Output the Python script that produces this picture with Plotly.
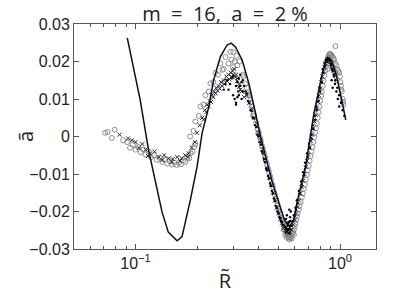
import plotly.graph_objects as go

# ---- solid model curve ----
line_R = [0.0911, 0.0977, 0.1054, 0.1158, 0.1225, 0.1347, 0.1446, 0.1596, 0.1688, 0.1752,
          0.1854, 0.1999, 0.2116, 0.2280, 0.2411, 0.2601, 0.2805, 0.2935, 0.3082, 0.3322,
          0.3580, 0.3862, 0.4086, 0.4372, 0.4679, 0.5063, 0.5357, 0.5667, 0.5929, 0.6204,
          0.6789, 0.7458, 0.7747, 0.8197, 0.8509, 0.8833, 0.9178, 0.9711, 1.0276, 1.0665]
line_a = [0.0263, 0.0186, 0.0097, -0.0036, -0.0100, -0.0201, -0.0255, -0.0278, -0.0267, -0.0231,
          -0.0169, -0.0081, 0.0009, 0.0079, 0.0151, 0.0213, 0.0244, 0.0249, 0.0239, 0.0204,
          0.0142, 0.0062, 0.0000, -0.0063, -0.0124, -0.0183, -0.0223, -0.0239, -0.0223, -0.0169,
          -0.0080, 0.0062, 0.0106, 0.0169, 0.0199, 0.0209, 0.0199, 0.0151, 0.0089, 0.0044]

# ---- open circles ----
circ_R = [0.071, 0.073, 0.0766, 0.079, 0.087,
          0.091, 0.094, 0.097, 0.100, 0.103, 0.106, 0.109, 0.112, 0.116, 0.119, 0.123, 0.127,
          0.131, 0.135, 0.139, 0.143, 0.147, 0.151, 0.155, 0.159, 0.163, 0.167, 0.171, 0.175,
          0.179, 0.183, 0.186, 0.190, 0.193, 0.196,
          0.185, 0.196, 0.2076, 0.2196, 0.2324, 0.2459, 0.2602, 0.2753, 0.2912, 0.301, 0.312,
          0.322, 0.337, 0.357, 0.377, 0.398,
          0.192, 0.204, 0.215, 0.228, 0.240, 0.253, 0.266, 0.285, 0.295, 0.305, 0.300, 0.315, 0.270,
          0.335, 0.345, 0.355, 0.365, 0.377, 0.388, 0.400, 0.410, 0.420, 0.430, 0.440, 0.450,
          0.460, 0.470, 0.480, 0.490, 0.500, 0.510, 0.520, 0.530, 0.540, 0.550, 0.560, 0.570,
          0.580, 0.590, 0.600, 0.610, 0.620, 0.635, 0.650, 0.665, 0.680, 0.695, 0.710, 0.725,
          0.740, 0.755, 0.770, 0.785, 0.800, 0.815, 0.830, 0.845, 0.860, 0.875, 0.890, 0.905,
          0.920, 0.935, 0.960, 0.980, 1.000, 1.010, 1.020, 1.030, 1.040,
          0.950, 0.540, 0.550, 0.565, 0.580, 0.595, 0.530, 0.870, 0.900, 0.925, 0.950, 0.965,
          0.350, 0.360, 0.370, 0.380, 0.395, 0.405, 0.415, 0.425, 0.435, 0.445, 0.455, 0.465,
          0.475, 0.485, 0.495, 0.505, 0.515, 0.525, 0.535, 0.545, 0.555, 0.565, 0.575, 0.585,
          0.595, 0.605, 0.615, 0.628, 0.642, 0.657, 0.672, 0.688, 0.703, 0.718, 0.733, 0.748,
          0.763, 0.778, 0.793, 0.808, 0.823, 0.838, 0.853, 0.868, 0.883, 0.897, 0.912, 0.928,
          0.945, 0.970, 0.990, 1.005, 1.015, 1.035]
circ_a = [0.0010, 0.0012, -0.0004, 0.0018, -0.0010,
          -0.0015, -0.0030, -0.0022, -0.0035, -0.0028, -0.0042, -0.0035, -0.0048, -0.0040, -0.0055,
          -0.0050, -0.0062, -0.0056, -0.0068, -0.0062, -0.0072, -0.0066, -0.0075, -0.0070, -0.0076,
          -0.0070, -0.0074, -0.0064, -0.0068, -0.0056, -0.0058, -0.0044, -0.0040, -0.0028, -0.0020,
          0.0000, 0.0040, 0.0080, 0.0110, 0.0142, 0.0170, 0.0195, 0.0212, 0.0226, 0.0225, 0.0215,
          0.0200, 0.0160, 0.0110, 0.0055, 0.0008,
          0.0015, 0.0055, 0.0085, 0.0120, 0.0145, 0.0165, 0.0178, 0.0195, 0.0205, 0.0200, 0.0185,
          0.0190, 0.0180,
          0.0165, 0.0140, 0.0115, 0.0090, 0.0060, 0.0035, 0.0010, -0.0012, -0.0035, -0.0055,
          -0.0075, -0.0095, -0.0115, -0.0135, -0.0155, -0.0172, -0.0190, -0.0205, -0.0220,
          -0.0235, -0.0248, -0.0260, -0.0268, -0.0270, -0.0265, -0.0255, -0.0240, -0.0222,
          -0.0205, -0.0185, -0.0162, -0.0140, -0.0115, -0.0090, -0.0065, -0.0040, -0.0015,
          0.0010, 0.0035, 0.0065, 0.0095, 0.0120, 0.0148, 0.0175, 0.0198, 0.0212, 0.0220,
          0.0218, 0.0212, 0.0205, 0.0190, 0.0175, 0.0160, 0.0135, 0.0120, 0.0100, 0.0085,
          0.0241, -0.0262, -0.0270, -0.0275, -0.0272, -0.0262, -0.0248, 0.0180, 0.0200, 0.0185,
          0.0170, 0.0150,
          0.0130, 0.0108, 0.0080, 0.0055, 0.0020, -0.0002, -0.0025, -0.0045, -0.0067, -0.0087,
          -0.0106, -0.0127, -0.0147, -0.0165, -0.0182, -0.0198, -0.0213, -0.0228, -0.0242,
          -0.0255, -0.0265, -0.0270, -0.0268, -0.0260, -0.0248, -0.0232, -0.0214, -0.0195,
          -0.0175, -0.0152, -0.0128, -0.0102, -0.0078, -0.0052, -0.0028, -0.0002, 0.0022,
          0.0050, 0.0080, 0.0108, 0.0135, 0.0162, 0.0187, 0.0205, 0.0217, 0.0220, 0.0215,
          0.0208, 0.0195, 0.0180, 0.0170, 0.0145, 0.0125, 0.0092]

# ---- crosses ----
cross_R = [0.0835, 0.096, 0.100, 0.104, 0.108, 0.112, 0.118, 0.124, 0.130, 0.138, 0.145,
           0.152, 0.160, 0.168, 0.175, 0.182, 0.188, 0.195, 0.200, 0.206, 0.212, 0.218, 0.224,
           0.230, 0.236, 0.242, 0.248, 0.255, 0.262, 0.270, 0.278, 0.285, 0.292, 0.298, 0.304,
           0.310, 0.316, 0.322, 0.330, 0.340,
           0.350, 0.370, 0.390, 0.410, 0.430, 0.450, 0.470, 0.490, 0.510, 0.530, 0.550, 0.570,
           0.590, 0.610, 0.630, 0.650, 0.670, 0.690, 0.710, 0.730, 0.750, 0.770, 0.790, 0.810,
           0.830, 0.850, 0.870, 0.890, 0.910, 0.930, 0.950,
           0.215, 0.222, 0.228, 0.234, 0.240, 0.246, 0.252, 0.258, 0.265, 0.272, 0.280, 0.288,
           0.295, 0.302, 0.308, 0.314, 0.320, 0.326,
           0.092, 0.115, 0.135, 0.150, 0.165, 0.180,
           0.360, 0.380, 0.400, 0.420, 0.440, 0.460, 0.480, 0.500, 0.520, 0.540, 0.560, 0.580,
           0.600, 0.620, 0.640, 0.660, 0.680, 0.700, 0.720, 0.740, 0.760, 0.780, 0.800, 0.820,
           0.840, 0.860, 0.880, 0.900, 0.920]
cross_a = [0.0005, -0.0010, -0.0015, -0.0030, -0.0020, -0.0035, -0.0045, -0.0040, -0.0055,
           -0.0050, -0.0058, -0.0060, -0.0055, -0.0058, -0.0050, -0.0045, -0.0030, -0.0015,
           0.0010, 0.0030, 0.0050, 0.0070, 0.0085, 0.0095, 0.0110, 0.0120, 0.0130, 0.0135,
           0.0145, 0.0150, 0.0160, 0.0165, 0.0170, 0.0175, 0.0180, 0.0165, 0.0155, 0.0140,
           0.0120, 0.0105,
           0.0110, 0.0075, 0.0035, -0.0010, -0.0060, -0.0110, -0.0150, -0.0190, -0.0220,
           -0.0245, -0.0255, -0.0255, -0.0235, -0.0205, -0.0170, -0.0135, -0.0100, -0.0065,
           -0.0030, 0.0005, 0.0040, 0.0075, 0.0110, 0.0145, 0.0175, 0.0195, 0.0205, 0.0200,
           0.0185, 0.0175, 0.0165,
           0.0045, 0.0065, 0.0080, 0.0092, 0.0105, 0.0115, 0.0122, 0.0128, 0.0135, 0.0140,
           0.0148, 0.0152, 0.0160, 0.0165, 0.0158, 0.0148, 0.0132, 0.0125,
           -0.0005, -0.0052, -0.0063, -0.0068, -0.0065, -0.0055,
           0.0090, 0.0050, 0.0010, -0.0035, -0.0085, -0.0130, -0.0170, -0.0205, -0.0232,
           -0.0250, -0.0258, -0.0248, -0.0222, -0.0188, -0.0152, -0.0118, -0.0082, -0.0048,
           -0.0012, 0.0022, 0.0058, 0.0092, 0.0128, 0.0160, 0.0185, 0.0200, 0.0203, 0.0193,
           0.0180]

# ---- dots ----
dot_R = [0.280, 0.290, 0.305, 0.310, 0.320, 0.325, 0.330, 0.335, 0.300, 0.315,
         0.345, 0.355, 0.365, 0.375, 0.385, 0.395, 0.405, 0.415, 0.425, 0.435, 0.445, 0.455,
         0.465, 0.475, 0.485, 0.495, 0.505, 0.515, 0.525, 0.535, 0.545, 0.555, 0.565, 0.575,
         0.585, 0.595, 0.605, 0.615, 0.630, 0.645, 0.660, 0.675, 0.690, 0.705, 0.720, 0.735,
         0.750, 0.765, 0.780, 0.795, 0.810, 0.825, 0.840, 0.855, 0.870, 0.885, 0.900, 0.915,
         0.930, 0.910, 0.920, 0.545, 0.550, 0.560, 0.565, 0.570, 0.575,
         0.950, 0.970, 0.990, 1.010, 1.030, 1.050,
         0.340, 0.350, 0.360, 0.370, 0.380, 0.390, 0.400, 0.410, 0.420, 0.430, 0.440, 0.450,
         0.460, 0.470, 0.480, 0.490, 0.500, 0.510, 0.520, 0.530, 0.540, 0.550, 0.560, 0.570,
         0.580, 0.590, 0.600, 0.610, 0.620, 0.635, 0.650, 0.665, 0.680, 0.695, 0.710, 0.725,
         0.740, 0.755, 0.770, 0.785, 0.800, 0.815, 0.830, 0.845, 0.860, 0.875, 0.890, 0.905,
         0.920, 0.935, 0.945, 0.960, 0.975, 0.990,
         0.555, 0.560, 0.550, 0.545, 0.565, 0.570,
         0.270, 0.275, 0.285, 0.295, 0.300, 0.310, 0.315, 0.320, 0.325, 0.330, 0.335, 0.310,
         0.318]
dot_a = [0.0150, 0.0140, 0.0100, 0.0090, 0.0110, 0.0135, 0.0100, 0.0120, 0.0160, 0.0145,
         0.0120, 0.0095, 0.0070, 0.0050, 0.0030, 0.0005, -0.0015, -0.0040, -0.0060, -0.0085,
         -0.0105, -0.0125, -0.0145, -0.0165, -0.0185, -0.0200, -0.0215, -0.0225, -0.0235,
         -0.0240, -0.0245, -0.0250, -0.0245, -0.0238, -0.0225, -0.0210, -0.0190, -0.0170,
         -0.0145, -0.0120, -0.0095, -0.0070, -0.0045, -0.0020, 0.0005, 0.0030, 0.0055, 0.0080,
         0.0105, 0.0130, 0.0155, 0.0180, 0.0195, 0.0205, 0.0210, 0.0205, 0.0195, 0.0180, 0.0165,
         0.0150, 0.0130, -0.0220, -0.0210, -0.0230, -0.0195, -0.0215, -0.0200,
         0.0150, 0.0130, 0.0110, 0.0090, 0.0070, 0.0055,
         0.0135, 0.0115, 0.0090, 0.0068, 0.0048, 0.0025, 0.0000, -0.0022, -0.0045, -0.0068,
         -0.0090, -0.0112, -0.0132, -0.0152, -0.0172, -0.0190, -0.0205, -0.0218, -0.0228,
         -0.0236, -0.0242, -0.0247, -0.0249, -0.0246, -0.0238, -0.0226, -0.0212, -0.0195,
         -0.0178, -0.0152, -0.0128, -0.0104, -0.0080, -0.0055, -0.0030, -0.0005, 0.0020,
         0.0045, 0.0070, 0.0095, 0.0120, 0.0145, 0.0170, 0.0188, 0.0200, 0.0207, 0.0202,
         0.0190, 0.0175, 0.0160, 0.0140, 0.0120, 0.0100, 0.0080,
         -0.0238, -0.0228, -0.0232, -0.0255, -0.0258, -0.0225,
         0.0125, 0.0140, 0.0125, 0.0155, 0.0110, 0.0135, 0.0105, 0.0155, 0.0165, 0.0145,
         0.0150, 0.0085, 0.0120]

y_ticks = [-0.03, -0.02, -0.01, 0, 0.01, 0.02, 0.03]
y_tick_text = ["\u22120.03", "\u22120.02", "\u22120.01", "0", "0.01", "0.02", "0.03"]
x_ticks = [0.1, 1.0]
x_tick_text = ["10<sup>\u22121</sup>", "10<sup>0</sup>"]
x_minor = [0.05, 0.06, 0.07, 0.08, 0.09, 0.2, 0.3, 0.4, 0.5, 0.6, 0.7, 0.8, 0.9]

FONT = "Liberation Sans, Arial, sans-serif"
TFONT = "Open Sans, Noto Sans, sans-serif"
AX = "#555555"
NB = "\u00a0"
title_text = f"m{NB}{NB}={NB}{NB}16,{NB}{NB}a{NB}{NB}={NB}{NB}2{NB}%"

fig = go.Figure()
fig.add_trace(go.Scatter(x=circ_R, y=circ_a, mode="markers",
                         marker=dict(symbol="circle-open", size=5, color="#858585",
                                     line=dict(width=0.9)), showlegend=False))
fig.add_trace(go.Scatter(x=cross_R, y=cross_a, mode="markers",
                         marker=dict(symbol="x-thin-open", size=4, color="#2a2a2a",
                                     line=dict(width=1, color="#2a2a2a")), showlegend=False))
fig.add_trace(go.Scatter(x=dot_R, y=dot_a, mode="markers",
                         marker=dict(symbol="circle", size=2.4, color="#000000"),
                         showlegend=False))
fig.add_trace(go.Scatter(x=line_R, y=line_a, mode="lines",
                         line=dict(color="#0d0d2a", width=1.5), showlegend=False))

fig.update_layout(
    width=399, height=297,
    margin=dict(l=74, r=23, t=24, b=48),
    paper_bgcolor="white", plot_bgcolor="white",
    font=dict(family=FONT, size=16, color="#222222"),
    title=dict(text=title_text, x=0.5, xref="paper", xanchor="center",
               y=1 - 14.0 / 297, yref="container", yanchor="middle",
               font=dict(family=TFONT, size=20, color="#222222")),
    annotations=[dict(text="\u00e3", xref="paper", yref="paper",
                      x=(25.5 - 74) / 302, y=0.5, xanchor="center", yanchor="middle",
                      textangle=-90, showarrow=False,
                      font=dict(family=TFONT, size=20, color="#222222"))],
)
fig.update_xaxes(
    type="log", range=[-1.301, 0.176], automargin=False,
    tickvals=x_ticks, ticktext=x_tick_text,
    ticks="inside", ticklen=5, tickcolor=AX,
    showline=True, linecolor=AX, linewidth=1, mirror="allticks",
    showgrid=False, zeroline=False,
    tickfont=dict(size=16),
    minor=dict(tickvals=x_minor, ticks="inside", ticklen=3, tickcolor=AX, showgrid=False),
    title=dict(text="R\u0303", font=dict(family=TFONT, size=20), standoff=2),
)
fig.update_yaxes(
    range=[-0.03, 0.03], automargin=False,
    tickvals=y_ticks, ticktext=y_tick_text,
    ticks="inside", ticklen=5, tickcolor=AX,
    showline=True, linecolor=AX, linewidth=1, mirror="allticks",
    showgrid=False, zeroline=False,
    tickfont=dict(size=16),
)

fig.write_html("out.html", config={"displayModeBar": False},
               post_script="document.body.style.margin='0';document.body.style.overflow='hidden';")
